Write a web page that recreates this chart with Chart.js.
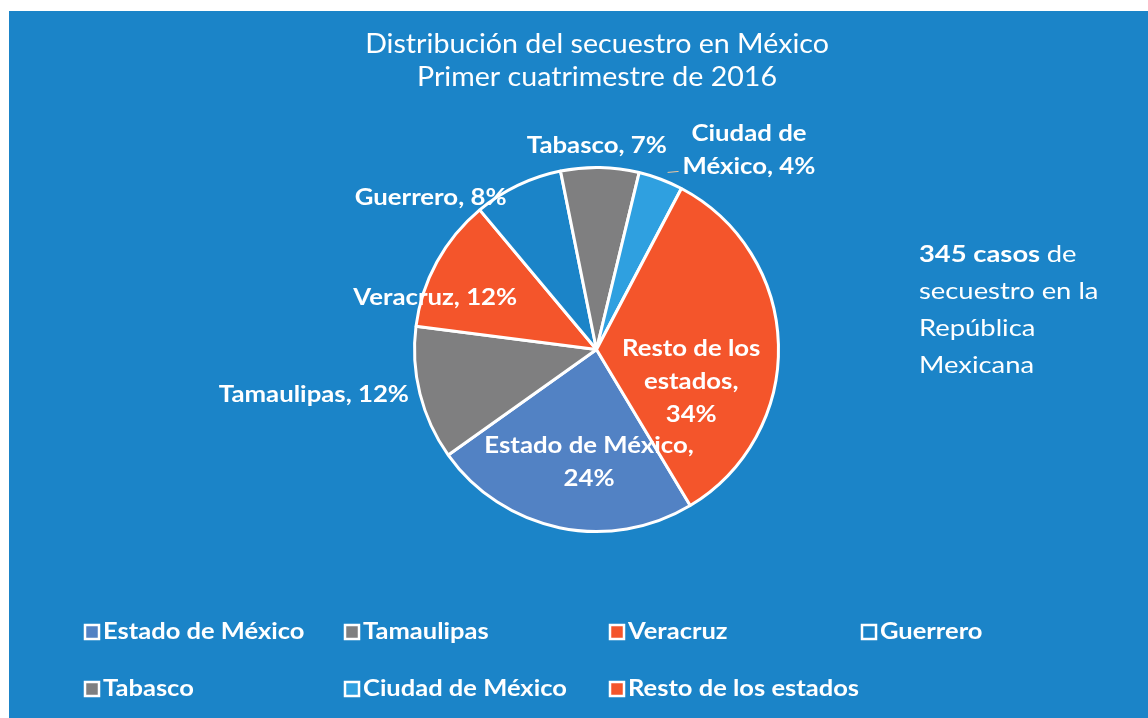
<!DOCTYPE html>
<html>
<head>
<meta charset="utf-8">
<script src="https://cdn.jsdelivr.net/npm/chart.js@4/dist/chart.umd.min.js"></script>
<style>
  html, body { margin: 0; padding: 0; background: #ffffff; }
  #wrap { width: 1148px; height: 718px; }
</style>
</head>
<body>
<div id="wrap"><canvas id="pieSecuestro" width="1148" height="718"></canvas></div>
<script>
// datos (porcentajes)
const categorias = ['Estado de México', 'Tamaulipas', 'Veracruz', 'Guerrero', 'Tabasco', 'Ciudad de México', 'Resto de los estados'];
const porcentajes = [24, 12, 12, 8, 7, 4, 34];
const colores = ['#5282c4', '#7f7f80', '#f4552b', '#1b84c8', '#7f7f80', '#2fa0e0', '#f4552b'];
const titulo = ['Distribución del secuestro en México', 'Primer cuatrimestre de 2016'];
const totalCasos = 345;

const BG = '#1b84c8';
const FONT = 'Lato, "Open Sans", sans-serif';

// como se acomoda cada etiqueta (f = fraccion del radio, shift = grados)
const etiquetas = [
  { f: 0.62, shift: -8, align: 'center', wrap: 999, valueLine: true },
  { f: 1.06, shift: 0.5, align: 'right', wrap: 999, valueLine: false },
  { f: 0.93, shift: -11, align: 'center', wrap: 999, valueLine: false },
  { f: 0.97, shift: -5, align: 'right', wrap: 999, valueLine: false },
  { f: 1.12, shift: -1, align: 'center', wrap: 999, valueLine: false },
  { f: 1.38, shift: 16.7, align: 'center', wrap: 120, valueLine: false, leader: true },
  { f: 0.55, shift: 20.5, align: 'center', wrap: 150, valueLine: true }
];

// texto un poco ensanchado, como en la imagen original
function stretchText(c, txt, x, y, align, sx) {
  const w = c.measureText(txt).width * sx;
  let left = x;
  if (align === 'center') left = x - w / 2;
  if (align === 'right') left = x - w;
  c.save();
  c.translate(left, y);
  c.scale(sx, 1);
  c.textAlign = 'left';
  c.fillText(txt, 0, 0);
  c.restore();
  return w;
}

function wrapWords(c, text, maxW, sx) {
  const words = text.split(' ');
  let lines = [];
  let cur = '';
  words.forEach(w => {
    let test = cur ? cur + ' ' + w : w;
    if (c.measureText(test).width * sx > maxW && cur) {
      lines.push(cur);
      cur = w;
    } else {
      cur = test;
    }
  });
  lines.push(cur);
  return lines;
}

const fondo = {
  id: 'fondo',
  beforeDraw(chart) {
    const c = chart.ctx;
    c.save();
    c.fillStyle = BG;
    c.fillRect(9, 11, 1139, 707);
    c.restore();
  }
};

const textos = {
  id: 'textos',
  afterDatasetsDraw(chart) {
    const c = chart.ctx;
    const arcs = chart.getDatasetMeta(0).data;
    c.save();
    c.fillStyle = '#ffffff';
    c.textBaseline = 'middle';

    // titulo
    c.font = '26px ' + FONT;
    stretchText(c, titulo[0], 597, 45, 'center', 1.1);
    stretchText(c, titulo[1], 597, 78, 'center', 1.1);

    // etiquetas de datos
    const sxLab = 1.12;
    c.font = 'bold 23px ' + FONT;
    const lh = 33;
    arcs.forEach((arc, i) => {
      const cfg = etiquetas[i];
      const mid = (arc.startAngle + arc.endAngle) / 2 + cfg.shift * Math.PI / 180;
      const px = arc.x + Math.cos(mid) * arc.outerRadius * cfg.f;
      const py = arc.y + Math.sin(mid) * arc.outerRadius * cfg.f;
      let lines = wrapWords(c, categorias[i], cfg.wrap, sxLab);
      lines[lines.length - 1] += ',';
      if (cfg.valueLine) {
        lines.push(porcentajes[i] + '%');
      } else {
        lines[lines.length - 1] += ' ' + porcentajes[i] + '%';
      }
      const y0 = py - (lines.length - 1) * lh / 2;
      lines.forEach((ln, k) => stretchText(c, ln, px, y0 + k * lh, cfg.align, sxLab));
      if (cfg.leader) {
        const last = lines[lines.length - 1];
        const w = c.measureText(last).width * sxLab;
        const lx = px - w / 2 - 4;
        const ly = y0 + (lines.length - 1) * lh + 5;
        c.strokeStyle = '#f0c8a0';
        c.lineWidth = 1;
        c.beginPath();
        c.moveTo(lx - 11, ly + 1);
        c.lineTo(lx, ly);
        c.stroke();
      }
    });

    // nota lateral
    const sxSide = 1.19;
    c.font = 'bold 23px ' + FONT;
    const bw = stretchText(c, totalCasos + ' casos ', 919, 255, 'left', sxSide);
    c.font = '23px ' + FONT;
    stretchText(c, 'de', 919 + bw, 255, 'left', sxSide);
    stretchText(c, 'secuestro en la', 919, 292, 'left', sxSide);
    stretchText(c, 'República', 919, 329, 'left', sxSide);
    stretchText(c, 'Mexicana', 919, 366, 'left', sxSide);

    // leyenda
    const colX = [85, 345, 610, 862];
    const rowY = [632, 689];
    c.font = 'bold 22px ' + FONT;
    categorias.forEach((cat, i) => {
      const x = colX[i % 4];
      const y = rowY[Math.floor(i / 4)];
      c.fillStyle = colores[i];
      c.fillRect(x, y - 7, 14, 14);
      c.strokeStyle = '#ffffff';
      c.lineWidth = 2.5;
      c.strokeRect(x, y - 7, 14, 14);
      c.fillStyle = '#ffffff';
      stretchText(c, cat, x + 18, y, 'left', 1.16);
    });
    c.restore();
  }
};

const ctxPie = document.getElementById('pieSecuestro').getContext('2d');
const pieChart = new Chart(ctxPie, {
  type: 'pie',
  data: {
    labels: categorias,
    datasets: [{
      label: 'secuestro',
      data: porcentajes,
      backgroundColor: colores,
      borderColor: '#ffffff',
      borderWidth: 3
    }]
  },
  options: {
    responsive: false,
    animation: false,
    rotation: 149,
    layout: {
      padding: { left: 413, right: 368, top: 166, bottom: 185 }
    },
    plugins: {
      legend: { display: false },
      title: { display: false },
      tooltip: { enabled: false }
    }
  },
  plugins: [fondo, textos]
});
</script>
</body>
</html>
